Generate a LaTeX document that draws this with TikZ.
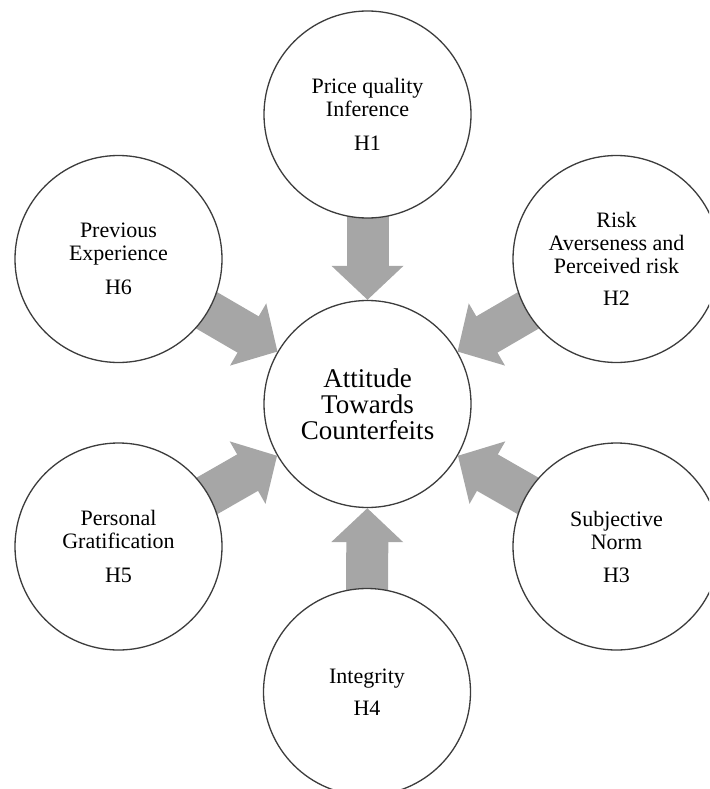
\documentclass[tikz,border=0pt]{standalone}
\usepackage{fontspec}
\setmainfont{Liberation Serif}
\usetikzlibrary{arrows.meta,backgrounds}
\definecolor{arrowgray}{RGB}{166,166,166}
\definecolor{ringcol}{RGB}{60,60,60}
\tikzset{
  bubble/.style={circle, draw=ringcol, line width=1.3pt, fill=white, minimum size=207pt, inner sep=0pt, align=center, font=\fontsize{22}{23}\selectfont},
  hub/.style={bubble, font=\fontsize{27}{26}\selectfont},
  fatarrow/.style={draw=arrowgray, line width=42pt, -{Triangle[width=70pt,length=34pt]}}
}
\begin{document}
\begin{tikzpicture}[x=1pt,y=-1pt]
\useasboundingbox (0,0) rectangle (709,789);
\clip (0,0) rectangle (709,789);
\node[hub] (c) at (367.5,404) {Attitude\\ Towards\\ Counterfeits};
\node[bubble] (h1) at (367.5,114.5) {Price quality\\ Inference\\[11pt] H1};
\node[bubble] (h2) at (616.5,259) {Risk\\ Averseness and\\ Perceived risk\\[9pt] H2};
\node[bubble] (h3) at (616.5,546.5) {Subjective\\ Norm\\[10pt] H3};
\node[bubble] (h4) at (367,692) {Integrity\\[9pt] H4};
\node[bubble] (h5) at (118.5,546.5) {Personal\\ Gratification\\[11pt] H5};
\node[bubble] (h6) at (118.5,259) {Previous\\ Experience\\[11pt] H6};
\begin{scope}[on background layer]
\draw[fatarrow] (h1.center) -- (c);
\draw[fatarrow] (h2.center) -- (c);
\draw[fatarrow] (h3.center) -- (c);
\draw[fatarrow] (h4.center) -- (c);
\draw[fatarrow] (h5.center) -- (c);
\draw[fatarrow] (h6.center) -- (c);
\end{scope}
\end{tikzpicture}
\end{document}
